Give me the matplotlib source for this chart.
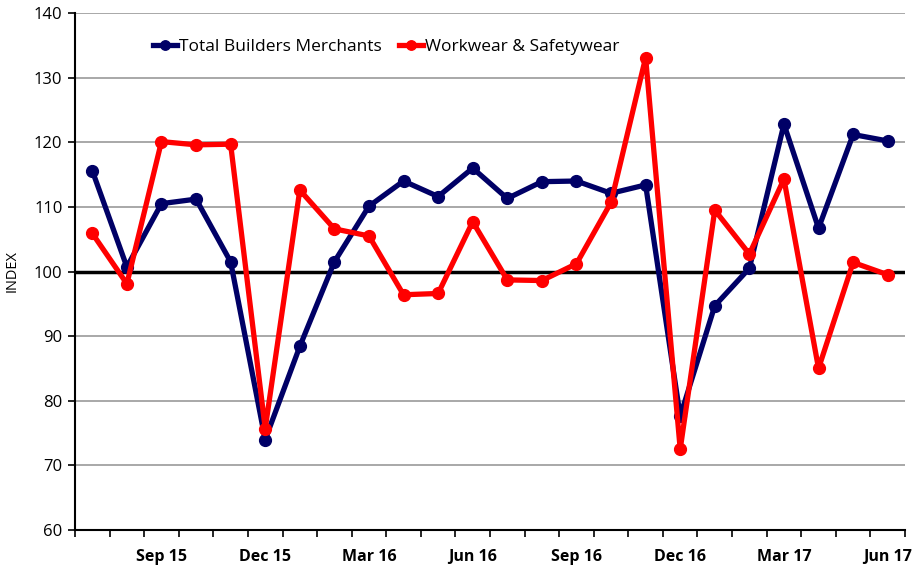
import matplotlib
matplotlib.use("Agg")
import matplotlib.pyplot as plt
from matplotlib.ticker import FixedLocator

months = ["Jul 15", "Aug 15", "Sep 15", "Oct 15", "Nov 15", "Dec 15",
          "Jan 16", "Feb 16", "Mar 16", "Apr 16", "May 16", "Jun 16",
          "Jul 16", "Aug 16", "Sep 16", "Oct 16", "Nov 16", "Dec 16",
          "Jan 17", "Feb 17", "Mar 17", "Apr 17", "May 17", "Jun 17"]
total_builders = [115.6, 100.7, 110.5, 111.2, 101.5, 74.0,
                  88.4, 101.5, 110.1, 114.0, 111.6, 116.0,
                  111.3, 113.9, 114.0, 112.1, 113.4, 77.6,
                  94.7, 100.5, 122.8, 106.7, 121.2, 120.2]
workwear = [105.9, 98.1, 120.1, 119.6, 119.7, 75.7,
            112.6, 106.6, 105.5, 96.4, 96.6, 107.7,
            98.7, 98.6, 101.2, 110.7, 133.1, 72.5,
            109.5, 102.7, 114.3, 85.0, 101.4, 99.5]
tick_labels = ["Sep 15", "Dec 15", "Mar 16", "Jun 16", "Sep 16", "Dec 16", "Mar 17", "Jun 17"]

plt.rcParams['font.family'] = ['Open Sans', 'DejaVu Sans']

fig = plt.figure(figsize=(9.2, 5.68), dpi=100)
ax = fig.add_axes([75/920, 38/568, 830/920, 517/568])

x = list(range(len(months)))
ax.plot(x, total_builders, color="#000066", lw=3.8, marker="o", ms=8.5,
        label="Total Builders Merchants", zorder=3)
ax.plot(x, workwear, color="#ff0000", lw=3.8, marker="o", ms=8.5,
        label="Workwear & Safetywear", zorder=4)

ax.set_xlim(-0.5, len(months) - 0.5)
ax.set_ylim(60, 140)
ax.set_yticks(range(60, 141, 10))
ax.yaxis.grid(True, color="#999999", lw=1.2)
ax.set_axisbelow(True)
ax.axhline(100, color="black", lw=2.5, zorder=2)

label_pos = [months.index(m) for m in tick_labels]
ax.xaxis.set_major_locator(FixedLocator(label_pos))
ax.set_xticklabels(tick_labels, fontweight="bold", fontsize=11.5)
ax.xaxis.set_minor_locator(FixedLocator([i + 0.5 for i in range(-1, len(months))]))
ax.tick_params(axis="x", which="major", length=0, pad=14)
ax.tick_params(axis="x", which="minor", length=5, width=1.2, direction="out")
ax.tick_params(axis="y", length=5, width=1.2, labelsize=12, pad=4)

for s in ["top", "right"]:
    ax.spines[s].set_visible(False)
for s in ["left", "bottom"]:
    ax.spines[s].set_linewidth(1.5)
    ax.spines[s].set_color("black")

ax.set_ylabel("INDEX", fontsize=10.5, labelpad=10)

ax.legend(loc="upper left", bbox_to_anchor=(0.075, 0.98), ncol=2, frameon=False,
          fontsize=12.5, handlelength=1.4, handletextpad=0.1, columnspacing=1.0,
          markerscale=0.8)

fig.savefig("out.png", dpi=100)
